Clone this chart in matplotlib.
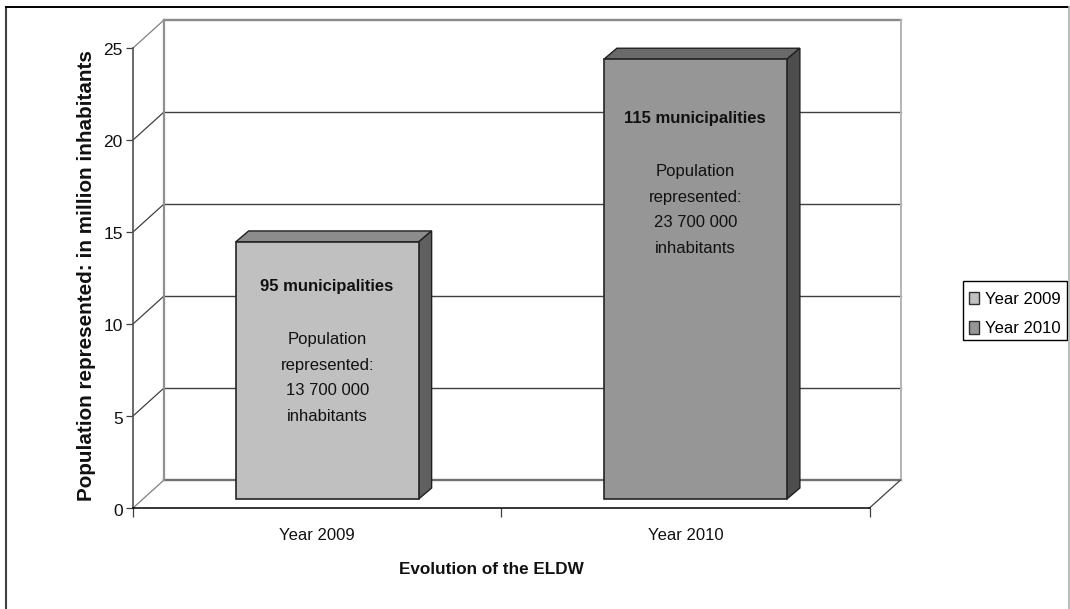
import matplotlib
matplotlib.use("Agg")
import matplotlib.pyplot as plt
from matplotlib.lines import Line2D
from matplotlib.patches import Patch, Polygon, Rectangle
from matplotlib.transforms import ScaledTranslation

plt.rcParams['font.family'] = ['Liberation Sans', 'DejaVu Sans']

#Data
years = ["Year 2009", "Year 2010"]
population = [13.97, 23.9]
municipalities = ["95 municipalities", "115 municipalities"]
notes = ["Population\nrepresented:\n13 700 000\ninhabitants",
         "Population\nrepresented:\n23 700 000\ninhabitants"]
y_ticks = [0, 5, 10, 15, 20, 25]

#Colours
bar_colors = ["#c0c0c0", "#969696"]
top_colors = ["#8c8c8c", "#6a6a6a"]
side_colors = ["#606060", "#4d4d4d"]

W, H = 1070, 609
fig = plt.figure(figsize=(W / 100, H / 100), dpi=100)

#Front plane of the fake 3D box
left, right, bottom, top = 133, 869.5, 508, 48
ax = fig.add_axes([left / W, 1 - bottom / H, (right - left) / W, (bottom - top) / H])
ax.set_xlim(0, 2)
ax.set_ylim(0, 25)
ax.patch.set_alpha(0)

px_x = 2 / (right - left)
px_y = 25 / (bottom - top)
dx, dy = 31 * px_x, 28 * px_y

#Back wall and gridlines
for v in y_ticks:
    col = "#8a8a8a" if v == 25 else "#707070" if v == 0 else "#404040"
    lw = 1.7 if v in (0, 25) else 1.0
    ax.plot([dx, 2 + dx], [v + dy, v + dy], color=col, lw=lw, clip_on=False, zorder=1)
    ax.plot([0, dx], [v, v + dy], color="#404040" if 0 < v < 25 else "#808080", lw=0.9, clip_on=False, zorder=1)
ax.plot([dx, dx], [dy, 25 + dy], color="#909090", lw=1.6, clip_on=False, zorder=1)
ax.plot([2 + dx, 2 + dx], [dy, 25 + dy], color="#b4b4b4", lw=1.4, clip_on=False, zorder=1)
ax.plot([2, 2 + dx], [0, dy], color="#404040", lw=0.9, clip_on=False, zorder=1)

#Bars
shift_x, shift_y = 10 * px_x, 9 * px_y
depth_x, depth_y = 13 * px_x, 11 * px_y
width = 183 * px_x
centers = [i + 0.5 + shift_x for i in range(len(years))]
bars = ax.bar(centers, population, width=width, bottom=shift_y, color=bar_colors,
              edgecolor="#252525", linewidth=1.2, zorder=4, clip_on=False)
for bar, tc, sc in zip(bars, top_colors, side_colors):
    x0, x1 = bar.get_x(), bar.get_x() + bar.get_width()
    y0, y1 = bar.get_y(), bar.get_y() + bar.get_height()
    ax.add_patch(Polygon([(x0, y1), (x1, y1), (x1 + depth_x, y1 + depth_y), (x0 + depth_x, y1 + depth_y)],
                         facecolor=tc, edgecolor="#202020", lw=1.0, zorder=3, clip_on=False))
    ax.add_patch(Polygon([(x1, y0), (x1 + depth_x, y0 + depth_y), (x1 + depth_x, y1 + depth_y), (x1, y1)],
                         facecolor=sc, edgecolor="#202020", lw=1.0, zorder=3, clip_on=False))

#Text on the bars, distance below the bar top differs per bar
bold_drop = [45, 59]
note_drop = [90, 105]
for c, v, m, n, d1, d2 in zip(centers, population, municipalities, notes, bold_drop, note_drop):
    top_y = v + shift_y
    ax.text(c - 1 * px_x, top_y - d1 * px_y, m, ha="center", va="center", fontsize=12, fontweight="bold",
            color="#111111", zorder=5)
    ax.text(c, top_y - d2 * px_y, n, ha="center", va="top", fontsize=12, color="#111111",
            linespacing=1.88, zorder=5)

#Axes
ax.spines["top"].set_visible(False)
ax.spines["right"].set_visible(False)
ax.spines["left"].set_color("#505050")
ax.spines["left"].set_linewidth(1.2)
ax.spines["bottom"].set_color("black")
ax.spines["bottom"].set_linewidth(1.1)
ax.spines["left"].set_zorder(2)
ax.spines["bottom"].set_zorder(2)
ax.set_yticks(y_ticks)
ax.set_xticks([0, 1, 2])
ax.set_xticklabels([])
ax.tick_params(axis="y", labelsize=12.5, length=5.3, width=0.9, color="#404040", pad=2, labelcolor="#111111")
ax.tick_params(axis="x", length=6.3, width=0.9, color="#404040")
#Tick labels sit a little below their ticks
nudge = ScaledTranslation(0, -1.5 / 100, fig.dpi_scale_trans)
for label in ax.get_yticklabels():
    label.set_transform(label.get_transform() + nudge)
for i, name in enumerate(years):
    ax.text(i + 0.5, -27 * px_y, name, ha="center", va="center", fontsize=12, color="#111111")

fig.text(491 / W, 1 - 569 / H, "Evolution of the ELDW", ha="center", va="center",
         fontsize=12.3, fontweight="bold", color="#111111")
fig.text(87 / W, 1 - 276 / H, "Population represented: in million inhabitants", rotation=90,
         ha="center", va="center", fontsize=14.9, fontweight="bold", color="#111111")

#Legend, box drawn apart so the rows can sit lower in it
fig.add_artist(Rectangle((963 / W, 1 - 340 / H), 104 / W, 59 / H, transform=fig.transFigure,
                         facecolor="white", edgecolor="black", lw=1.0))
handles = [Patch(facecolor=c, edgecolor="#303030", label=y) for c, y in zip(bar_colors, years)]
leg = fig.legend(handles=handles, loc="center", bbox_to_anchor=(1015 / W, 1 - 314 / H), fontsize=12,
                 frameon=False, handlelength=0.62, handleheight=0.78, handletextpad=0.35,
                 labelspacing=0.86, borderpad=0.42, borderaxespad=0)

#Outer frame of the picture
fig.add_artist(Line2D([6 / W, 6 / W], [0, 1 - 6 / H], color="#404040", lw=1.5, solid_capstyle="butt"))
fig.add_artist(Line2D([5 / W, 1069 / W], [1 - 6.5 / H, 1 - 6.5 / H], color="black", lw=1.4, solid_capstyle="butt"))
fig.add_artist(Line2D([1069 / W, 1069 / W], [0, 1 - 6 / H], color="#b0b0b0", lw=1.2, solid_capstyle="butt"))

fig.savefig("out.png", dpi=100)
